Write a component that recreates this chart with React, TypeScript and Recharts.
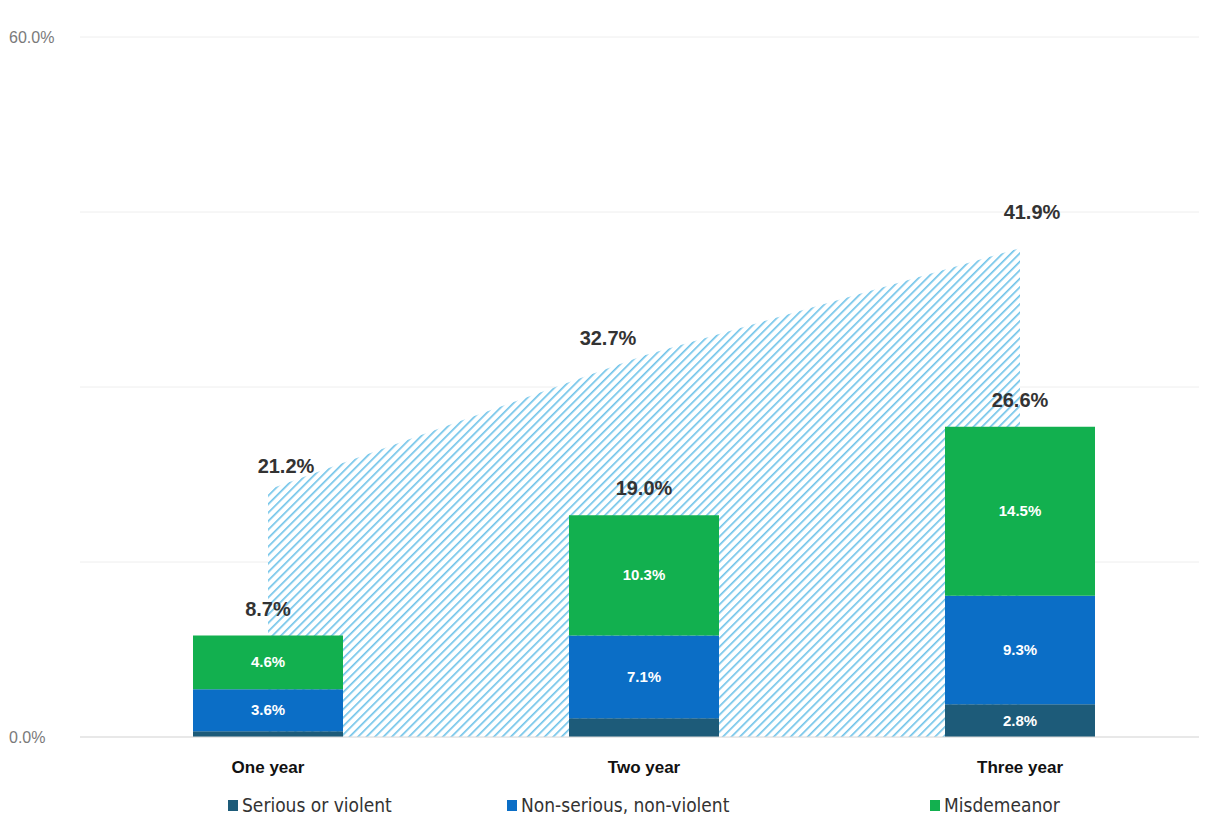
import { Area, Bar, CartesianGrid, ComposedChart, LabelList, Legend, XAxis, YAxis } from "recharts";

const categories = ["One year", "Two year", "Three year"];
const serious = [0.5, 1.6, 2.8];
const nonSerious = [3.6, 7.1, 9.3];
const misdemeanor = [4.6, 10.3, 14.5];
const totals = [8.7, 19.0, 26.6];
const anyRearrest = [21.2, 32.7, 41.9];
const yTicks = [0, 15, 30, 45, 60];

const series = [
  { key: "serious", name: "Serious or violent", color: "#1d5b79" },
  { key: "nonSerious", name: "Non-serious, non-violent", color: "#0b6ec6" },
  { key: "misdemeanor", name: "Misdemeanor", color: "#12b04f" }
];

const rows = categories.map((category, i) => ({
  category,
  serious: serious[i],
  nonSerious: nonSerious[i],
  misdemeanor: misdemeanor[i],
  total: totals[i],
  anyRearrest: anyRearrest[i]
}));

const font = "'Liberation Sans', Arial, sans-serif";
// label nudges so the area numbers sit where the original placed them
const areaLabelShift = [18, -36, 12];
const areaLabelLift = [17, 11, 29];

function SegmentLabel(props: any) {
  const { x, y, width, height, value } = props;
  if (value < 2) return null;
  return (
    <text x={x + width / 2} y={y + height / 2} dy={5} textAnchor="middle" fill="#fff" fontSize={15} fontWeight={700} fontFamily={font}>
      {value.toFixed(1)}%
    </text>
  );
}

function TotalLabel(props: any) {
  const { x, y, width, value } = props;
  return (
    <text x={x + width / 2} y={y - 20} textAnchor="middle" fill="#333" fontSize={20} fontWeight={700} fontFamily={font}>
      {value.toFixed(1)}%
    </text>
  );
}

function AreaLabel(props: any) {
  const { x, y, value, index } = props;
  return (
    <text x={x + areaLabelShift[index]} y={y - areaLabelLift[index]} textAnchor="middle" fill="#333" fontSize={20} fontWeight={700} fontFamily={font}>
      {value.toFixed(1)}%
    </text>
  );
}

function LegendBox() {
  const widths = [279, 423, 200];
  return (
    <div
      style={{
        display: "flex",
        paddingLeft: 220,
        paddingTop: 15,
        fontFamily: "'DejaVu Sans Condensed', 'Liberation Sans', Arial, sans-serif",
        fontSize: 19,
        color: "#333"
      }}
    >
      {series.map((s, i) => (
        <div key={s.key} style={{ display: "flex", alignItems: "center", width: widths[i] }}>
          <span style={{ width: 10, height: 11, background: s.color, marginRight: 4, display: "inline-block" }} />
          {s.name}
        </div>
      ))}
    </div>
  );
}

export default function App() {
  return (
    <ComposedChart width={1200} height={818} data={rows} margin={{ top: 29, right: 0, bottom: 0, left: 0 }} barCategoryGap={113}>
      <defs>
        <pattern id="hatch" patternUnits="userSpaceOnUse" width="6" height="6" patternTransform="rotate(45)">
          <rect width="6" height="6" fill="#ffffff" />
          <line x1="0" y1="0" x2="0" y2="6" stroke="#6fc3e9" strokeWidth="3.3" />
        </pattern>
      </defs>
      <CartesianGrid vertical={false} stroke="#eeeeee" />
      <XAxis
        dataKey="category"
        axisLine={{ stroke: "#d9d9d9" }}
        tickLine={false}
        height={42}
        tick={{ fill: "#111", fontSize: 17, fontWeight: 700, fontFamily: font }}
        tickMargin={18}
      />
      <YAxis
        domain={[0, 60]}
        ticks={yTicks}
        width={72}
        axisLine={false}
        tickLine={false}
        tick={{ fill: "#7a7a7a", fontSize: 16, fontFamily: font, textAnchor: "start", dx: -63 }}
        tickFormatter={(v: number) => (v === 0 || v === 60 ? `${v.toFixed(1)}%` : "")}
      />
      <Area dataKey="anyRearrest" type="linear" fill="url(#hatch)" fillOpacity={1} stroke="none" isAnimationActive={false}>
        <LabelList dataKey="anyRearrest" content={AreaLabel} />
      </Area>
      {series.map((s) => (
        <Bar key={s.key} dataKey={s.key} name={s.name} stackId="a" fill={s.color} isAnimationActive={false}>
          <LabelList dataKey={s.key} content={SegmentLabel} />
          {s.key === "misdemeanor" && <LabelList dataKey="total" content={TotalLabel} />}
        </Bar>
      ))}
      <Legend verticalAlign="bottom" content={LegendBox} wrapperStyle={{ height: 47 }} />
    </ComposedChart>
  );
}
